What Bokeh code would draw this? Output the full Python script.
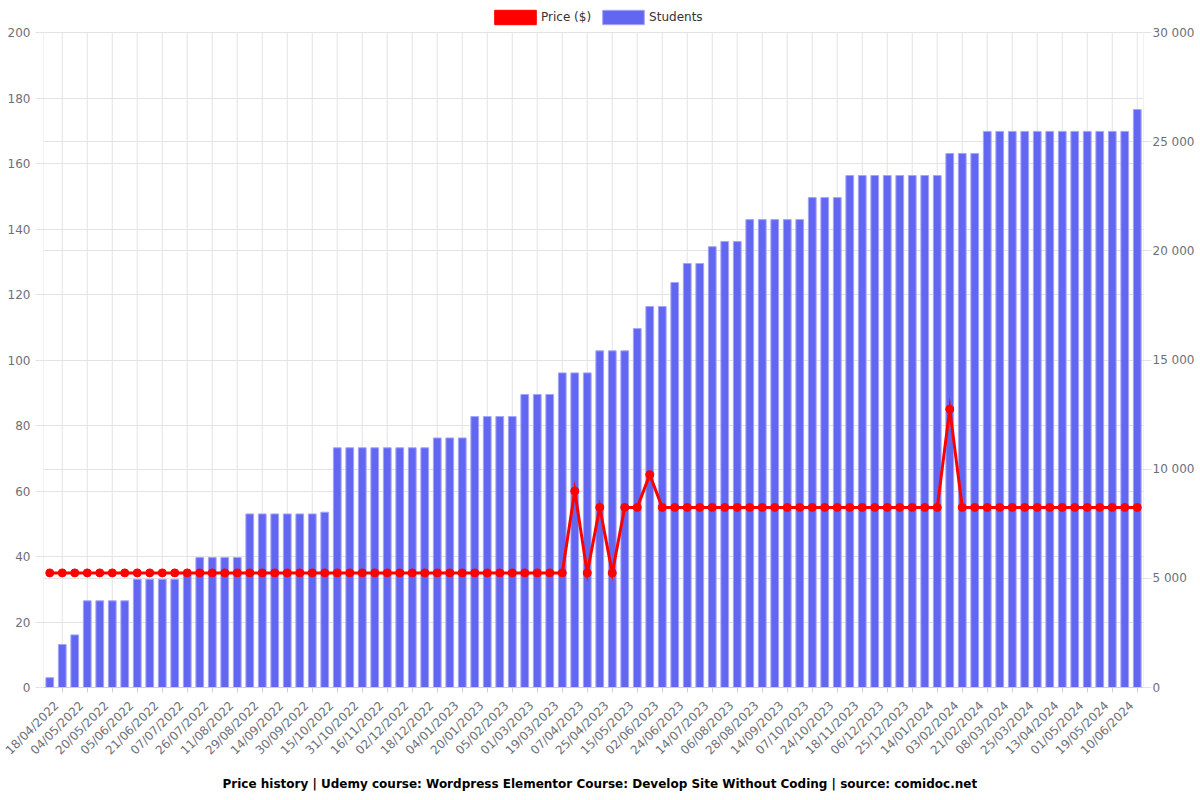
import math
from bokeh.plotting import figure
from bokeh.models import Range1d, LinearAxis, FixedTicker, Legend, LegendItem, Title, Grid
from bokeh.embed import file_html
from bokeh.resources import INLINE

date_labels = [
    "18/04/2022", "04/05/2022", "20/05/2022", "05/06/2022", "21/06/2022", "07/07/2022",
    "26/07/2022", "11/08/2022", "29/08/2022", "14/09/2022", "30/09/2022", "15/10/2022",
    "31/10/2022", "16/11/2022", "02/12/2022", "18/12/2022", "04/01/2023", "20/01/2023",
    "05/02/2023", "01/03/2023", "19/03/2023", "07/04/2023", "25/04/2023", "15/05/2023",
    "02/06/2023", "24/06/2023", "14/07/2023", "06/08/2023", "28/08/2023", "14/09/2023",
    "07/10/2023", "24/10/2023", "18/11/2023", "06/12/2023", "25/12/2023", "14/01/2024",
    "03/02/2024", "21/02/2024", "08/03/2024", "25/03/2024", "13/04/2024", "01/05/2024",
    "19/05/2024", "10/06/2024",
]

students = [
    450, 1970, 2410, 3970, 3970, 3970, 3970, 4960, 4960, 4960,
    4960, 5220, 5950, 5950, 5950, 5950, 7950, 7950, 7950, 7950,
    7950, 7950, 8030, 10980, 10980, 10980, 10980, 10980, 10980, 10980,
    10980, 11430, 11430, 11430, 12410, 12410, 12410, 12410, 13420, 13420,
    13420, 14410, 14410, 14410, 15420, 15420, 15420, 16440, 17450, 17450,
    18550, 19420, 19420, 20190, 20430, 20430, 21430, 21430, 21430, 21430,
    21430, 22440, 22440, 22440, 23450, 23450, 23450, 23450, 23450, 23450,
    23450, 23450, 24460, 24460, 24460, 25470, 25470, 25470, 25470, 25470,
    25470, 25470, 25470, 25470, 25470, 25470, 25470, 26470,
]

price = [
    35, 35, 35, 35, 35, 35, 35, 35, 35, 35,
    35, 35, 35, 35, 35, 35, 35, 35, 35, 35,
    35, 35, 35, 35, 35, 35, 35, 35, 35, 35,
    35, 35, 35, 35, 35, 35, 35, 35, 35, 35,
    35, 35, 60, 35, 55, 35, 55, 55, 65, 55,
    55, 55, 55, 55, 55, 55, 55, 55, 55, 55,
    55, 55, 55, 55, 55, 55, 55, 55, 55, 55,
    55, 55, 85, 55, 55, 55, 55, 55, 55, 55,
    55, 55, 55, 55, 55, 55, 55, 55,
]

price_ticks = list(range(0, 201, 20))
student_ticks = list(range(0, 30001, 5000))

FONT = "DejaVu Sans"
GRID = "#e3e3e3"
LABEL = "#6e7079"

n = len(students)
xs = list(range(n))
label_ticks = xs[1::2]
LABEL_SHIFT = 0.45  # rotated labels end slightly left of their tick, as in the original

# plot area: 1100 x 655 px; the frame is extended 32 px upward to host the legend
PLOT_H = 655
TOP_PAD = 32
FRAME_H = PLOT_H + TOP_PAD
price_max = price_ticks[-1]
students_max = student_ticks[-1]
ext = FRAME_H / PLOT_H

p = figure(frame_width=1100, frame_height=FRAME_H, output_backend="svg", toolbar_location=None,
           x_range=Range1d(-0.5, n - 0.5), y_range=Range1d(0, price_max * ext),
           min_border_left=43, min_border_right=57, min_border_top=0,
           min_border_bottom=113, background_fill_color="white")
p.extra_y_ranges = {"students": Range1d(0, students_max * ext)}
p.outline_line_color = None

# vertical grid lines (limited to the plot area) + left/right plot edges
gx = [-0.5] + label_ticks + [n - 0.5]
p.segment(x0=gx, y0=[price_ticks[0]] * len(gx), x1=gx, y1=[price_max] * len(gx),
          line_color=GRID, line_width=1, level="underlay")

bars = p.vbar(x=xs, top=students, width=0.62, y_range_name="students",
              fill_color="#6366f1", line_color="#a3a6f6", line_width=1)
proxy = p.vbar(x=xs, top=price, width=0.6, fill_color="#ff0000", line_color="#ff0000",
               visible=False)
p.line(xs, price, line_color="#ff0000", line_width=3, line_join="miter")
p.scatter(xs, price, size=8, fill_color="#ff0000", line_color="#ff0000")

# x axis: labels on (slightly shifted) major ticks, visible tick marks as minor ticks
shifted = [t - LABEL_SHIFT for t in label_ticks]
xa = p.xaxis[0]
xa.ticker = FixedTicker(ticks=shifted, minor_ticks=label_ticks)
xa.major_label_overrides = {t: lab for t, lab in zip(shifted, date_labels)}
xa.major_label_orientation = math.pi / 4
xa.axis_line_color = "#cfcfcf"
xa.major_tick_line_color = None
xa.major_tick_out = 5
xa.major_tick_in = 0
xa.minor_tick_line_color = "#cfcfcf"
xa.minor_tick_out = 5
xa.minor_tick_in = 0
xa.major_label_text_font = FONT
xa.major_label_text_font_size = "12px"
xa.major_label_text_color = LABEL
xa.major_label_standoff = 11

# left axis
ya = p.yaxis[0]
ya.ticker = FixedTicker(ticks=price_ticks)
ya.axis_line_color = None
ya.major_tick_out = 8
ya.major_tick_in = 0
ya.major_tick_line_color = GRID
ya.minor_tick_line_color = None
ya.major_label_text_font = FONT
ya.major_label_text_font_size = "12px"
ya.major_label_text_color = LABEL
ya.major_label_standoff = 5

# right axis
ra = LinearAxis(y_range_name="students", ticker=FixedTicker(ticks=student_ticks))
ra.major_label_overrides = {t: (f"{t:,}".replace(",", " ")) for t in student_ticks}
ra.axis_line_color = None
ra.major_tick_out = 8
ra.major_tick_in = 0
ra.major_tick_line_color = GRID
ra.minor_tick_line_color = None
ra.major_label_text_font = FONT
ra.major_label_text_font_size = "12px"
ra.major_label_text_color = LABEL
ra.major_label_standoff = 1
p.add_layout(ra, "right")

p.xgrid.visible = False
p.ygrid.ticker = FixedTicker(ticks=price_ticks)
p.ygrid.grid_line_color = GRID
g2 = Grid(dimension=1, ticker=FixedTicker(ticks=student_ticks), y_range_name="students",
          grid_line_color=GRID)
p.add_layout(g2)

legend = Legend(items=[LegendItem(label="Price ($)", renderers=[proxy]),
                       LegendItem(label="Students", renderers=[bars])],
                orientation="horizontal", location=(446, 661),
                glyph_width=52, glyph_height=18, label_height=18,
                label_standoff=0, spacing=6, padding=1, margin=0,
                border_line_color=None, background_fill_alpha=0,
                inactive_fill_alpha=0,
                label_text_font=FONT, label_text_font_size="12px",
                label_text_color="#333333")
p.add_layout(legend, "center")

title = Title(text="Price history | Udemy course: Wordpress Elementor Course: Develop Site Without Coding | source: comidoc.net",
              align="left", text_font=FONT, text_font_size="12px",
              text_font_style="bold", text_color="black", offset=179, standoff=19)
p.add_layout(title, "below")

open("out.html", "w").write(file_html(p, INLINE))
